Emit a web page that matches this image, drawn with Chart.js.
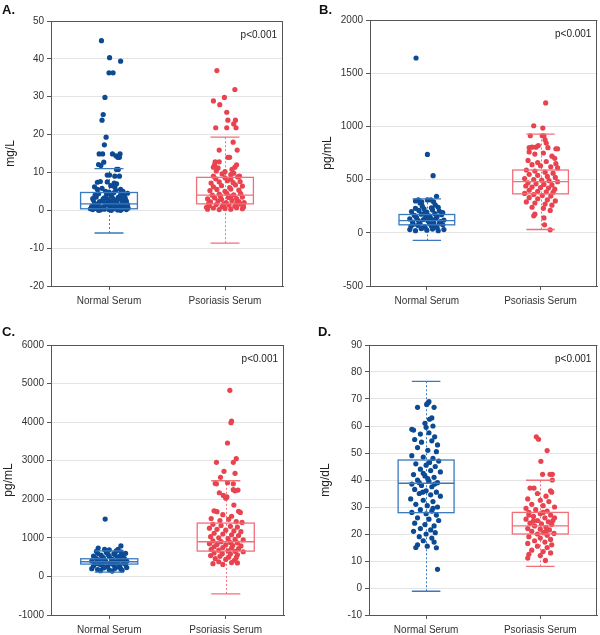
<!DOCTYPE html>
<html>
<head>
<meta charset="utf-8">
<script src="https://cdn.jsdelivr.net/npm/chart.js@4.4.0/dist/chart.umd.min.js"></script>
<style>
    body { margin: 0; background: #fff; }
    #wrap { position: relative; width: 600px; height: 635px; }
    .panel { position: absolute; width: 300px; height: 315px; }
    .letter { position: absolute; font: bold 13px "Liberation Sans", Arial, sans-serif; line-height: 13px; color: #111; }
</style>
</head>
<body>
<div id="wrap">
    <div class="panel" style="left:0;top:0"><canvas id="chartA"></canvas></div>
    <div class="panel" style="left:300px;top:0"><canvas id="chartB"></canvas></div>
    <div class="panel" style="left:0;top:320px"><canvas id="chartC"></canvas></div>
    <div class="panel" style="left:300px;top:320px"><canvas id="chartD"></canvas></div>
    <div class="letter" style="left:2px;top:3px">A.</div>
    <div class="letter" style="left:319px;top:3px">B.</div>
    <div class="letter" style="left:2px;top:325px">C.</div>
    <div class="letter" style="left:318px;top:325px">D.</div>
</div>
<script>
const categories = ['Normal Serum', 'Psoriasis Serum'];
const pValueText = 'p<0.001';

// each point: [horizontal jitter, value]

// A. mg/L
const aNormal = [
    [-0.13, 44.8], [0.01, 40.3], [0.2, 39.4], [0, 36.3], [0.07, 36.3], [-0.07, 29.8], [-0.1, 25.3], [-0.12, 23.8],
    [-0.05, 19.3], [-0.08, 17.3], [-0.17, 14.9], [-0.11, 14.9], [0.06, 14.9], [0.12, 14.4], [0.19, 14.9], [0.18, 14.0],
    [0.15, 14.0], [-0.09, 12.7], [-0.18, 12.1], [-0.14, 11.8], [0.16, 10.8], [0.13, 10.8], [-0.03, 9.3], [0.01, 9.3],
    [0.1, 9.0], [0.18, 9.0], [-0.2, 7.4], [-0.15, 7.6], [-0.03, 7.5], [0.09, 7.2], [0.13, 7.0], [0.03, 6.5],
    [0.2, 5.5], [-0.25, 6.2],
    [-0.28, 0.2], [-0.22, 0.5], [-0.15, 0.1], [-0.08, 0.3], [0.0, 0.2], [0.08, 0.4], [0.15, 0.1], [0.22, 0.3], [0.3, 0.2],
    [-0.3, 1.0], [-0.2, 1.2], [-0.1, 0.9], [0.02, 1.1], [0.12, 0.8], [0.2, 1.3], [0.28, 1.0],
    [-0.25, 1.8], [-0.17, 2.0], [-0.05, 1.6], [0.05, 2.2], [0.14, 1.9], [0.25, 2.1], [0.32, 1.5],
    [-0.27, 2.7], [-0.12, 2.5], [-0.02, 2.9], [0.1, 2.6], [0.18, 3.0], [0.3, 2.4],
    [-0.22, 3.5], [-0.08, 3.3], [0.04, 3.8], [0.16, 3.4], [0.26, 3.9],
    [-0.18, 4.4], [-0.04, 4.2], [0.08, 4.6], [0.2, 4.1], [0.32, 4.5],
    [-0.26, 0.6], [-0.13, 0.7], [0.06, 0.6], [0.17, 0.5], [0.26, 0.7],
    [-0.2, 1.5], [-0.03, 1.4], [0.1, 1.5], [0.23, 1.7],
    [-0.16, 2.3], [0.0, 2.4], [0.12, 2.3], [0.22, 2.8],
    [-0.28, 3.1], [-0.1, 3.0], [0.07, 3.1], [0.28, 3.2],
    [-0.06, 5.0], [0.12, 5.2], [-0.2, 5.5], [0.04, 0.0], [-0.18, 0.0], [0.2, 0.0],
    [-0.24, 4.0], [0.0, 4.8], [0.24, 5.0], [-0.12, 5.8], [0.1, 6.1], [-0.32, 0.4], [0.33, 0.6], [-0.06, 1.9]
];
const aPsoriasis = [
    [-0.14, 36.9], [0.17, 31.9], [-0.01, 29.8], [-0.2, 28.9], [-0.09, 27.9], [0.03, 25.9], [0.05, 23.8], [0.18, 23.8],
    [0.15, 22.8], [-0.16, 21.8], [0.03, 21.8], [0.19, 21.8], [0.14, 18.0], [-0.1, 15.9], [0.21, 15.9], [0.05, 14.0],
    [0.08, 14.0], [-0.17, 12.8], [-0.1, 12.8], [-0.18, 12.0], [0.2, 12.0], [0.17, 11.4], [-0.2, 11.4], [-0.12, 11.2],
    [0.12, 10.8], [-0.15, 10.4], [0.0, 10.2], [0.15, 9.8], [-0.05, 9.6], [0.1, 9.4], [-0.2, 9.0], [0.25, 9.0],
    [-0.3, 0.3], [-0.2, 0.6], [-0.1, 0.2], [0.0, 0.5], [0.1, 0.3], [0.2, 0.7], [0.3, 0.4],
    [-0.27, 1.2], [-0.15, 1.5], [-0.05, 1.0], [0.07, 1.4], [0.17, 1.1], [0.27, 1.6],
    [-0.25, 2.2], [-0.12, 2.5], [0.02, 2.0], [0.12, 2.6], [0.24, 2.3], [0.33, 2.0],
    [-0.3, 3.0], [-0.18, 3.3], [-0.06, 2.9], [0.06, 3.4], [0.2, 3.1], [0.3, 3.5],
    [-0.22, 4.0], [-0.1, 4.3], [0.03, 4.5], [0.15, 4.1], [0.27, 4.4],
    [-0.26, 5.2], [-0.14, 5.5], [0.0, 5.0], [0.1, 5.6], [0.24, 5.3],
    [-0.2, 6.2], [-0.06, 6.5], [0.08, 6.0], [0.18, 6.7], [0.3, 6.4],
    [-0.24, 7.2], [-0.1, 7.5], [0.04, 7.8], [0.14, 7.3], [0.26, 7.6],
    [-0.16, 8.3], [0.0, 8.6], [0.1, 8.2], [0.22, 8.8],
    [-0.28, 1.8], [-0.02, 1.7], [0.2, 1.8], [-0.08, 3.8], [0.1, 3.7], [0.32, 0.9], [-0.32, 0.8]
];
const aQ1 = [0.4, 1.7];
const aMedian = [1.7, 4.0];
const aQ3 = [4.7, 8.7];
const aLow = [-6, -8.7];
const aHigh = [11, 19.3];

// B. pg/mL
const bNormal = [
    [-0.19, 1643], [0.01, 737], [0.11, 537], [0.17, 343], [-0.15, 309], [-0.09, 290], [0.01, 309], [0.12, 290],
    [0.07, 309], [-0.2, 300], [-0.12, 280],
    [-0.3, 30], [-0.2, 20], [-0.1, 40], [0.0, 25], [0.1, 35], [0.2, 20], [0.3, 30],
    [-0.28, 60], [-0.16, 70], [-0.04, 55], [0.08, 65], [0.18, 50], [0.28, 75],
    [-0.25, 100], [-0.12, 90], [0.02, 110], [0.12, 95], [0.24, 105],
    [-0.3, 130], [-0.18, 140], [-0.06, 125], [0.06, 145], [0.16, 135], [0.3, 120],
    [-0.22, 165], [-0.1, 175], [0.04, 160], [0.14, 180], [0.26, 170],
    [-0.27, 200], [-0.14, 210], [0.0, 195], [0.1, 215], [0.22, 205],
    [-0.2, 230], [-0.05, 225], [0.08, 235], [0.2, 240], [-0.08, 250], [0.15, 260],
    [-0.24, 80], [0.05, 85], [0.22, 90], [-0.15, 115], [0.18, 150], [-0.02, 150],
    [-0.08, 45], [0.14, 60], [-0.2, 155], [0.28, 190], [-0.04, 185], [0.1, 120]
];
const bPsoriasis = [
    [0.09, 1221], [-0.12, 1006], [0.04, 984], [-0.18, 912], [0.03, 912], [0.06, 912], [0.08, 874], [0.1, 843],
    [-0.2, 800], [-0.15, 805], [-0.08, 805], [0.13, 800], [0.27, 790], [0.3, 790], [-0.04, 820],
    [-0.2, 760], [-0.1, 740], [0.05, 750], [0.2, 720], [0.25, 700],
    [-0.22, 680], [-0.05, 660], [0.1, 670], [0.27, 650],
    [-0.15, 640], [0.0, 630], [0.18, 620], [0.3, 610],
    [-0.25, 590], [-0.1, 580], [0.08, 570], [0.22, 560],
    [-0.2, 550], [-0.05, 540], [0.12, 530], [0.26, 520],
    [-0.28, 510], [-0.12, 500], [0.02, 495], [0.15, 490], [0.3, 480],
    [-0.22, 470], [-0.08, 460], [0.06, 455], [0.2, 450],
    [-0.26, 440], [-0.15, 430], [0.0, 425], [0.14, 420], [0.25, 410],
    [-0.2, 400], [-0.05, 390], [0.1, 385], [0.22, 380],
    [-0.28, 370], [-0.12, 360], [0.03, 350], [0.18, 345],
    [-0.2, 330], [-0.05, 320], [0.12, 310], [0.26, 300],
    [-0.25, 290], [-0.1, 280], [0.08, 270], [0.2, 260],
    [-0.15, 240], [0.05, 230], [0.17, 210], [-0.1, 175], [-0.12, 160], [0.06, 140], [0.07, 75], [0.17, 28]
];
const bQ1 = [75, 366];
const bMedian = [115, 481];
const bQ3 = [172, 590];
const bLow = [-72, 31];
const bHigh = [319, 928];

// C. pg/mL
const cNormal = [
    [-0.07, 1488], [-0.19, 737], [-0.08, 700], [0.0, 690], [0.2, 790], [0.15, 700],
    [-0.3, 200], [-0.2, 180], [-0.1, 220], [0.0, 170], [0.1, 210], [0.2, 190], [0.3, 230],
    [-0.27, 270], [-0.15, 300], [-0.03, 260], [0.08, 290], [0.18, 280], [0.28, 310],
    [-0.25, 340], [-0.12, 360], [0.02, 330], [0.12, 370], [0.24, 350],
    [-0.3, 400], [-0.18, 420], [-0.06, 390], [0.06, 430], [0.16, 410], [0.3, 400],
    [-0.22, 460], [-0.1, 480], [0.04, 450], [0.14, 490], [0.26, 470],
    [-0.27, 530], [-0.14, 550], [0.0, 520], [0.1, 560], [0.22, 540],
    [-0.2, 600], [-0.05, 620], [0.08, 590], [0.2, 640], [0.28, 600],
    [-0.15, 150], [0.05, 140], [0.22, 160], [-0.22, 650], [0.12, 660],
    [-0.08, 240], [0.16, 250], [-0.2, 330], [0.04, 380], [0.22, 430], [-0.12, 500], [0.18, 520], [-0.02, 570]
];
const cPsoriasis = [
    [0.07, 4824], [0.1, 4027], [0.09, 3985], [0.03, 3459], [-0.16, 2957], [0.18, 3052], [0.13, 2957], [-0.03, 2725],
    [0.16, 2673], [-0.09, 2569],
    [-0.18, 2410], [-0.16, 2400], [0.03, 2430], [0.13, 2400], [0.21, 2240], [0.16, 2220], [0.13, 2250], [-0.11, 2170],
    [-0.04, 2100], [0.0, 2030], [0.02, 2060], [0.14, 1851],
    [-0.2, 1700], [-0.15, 1680], [0.22, 1690], [0.25, 1660], [-0.05, 1600], [0.1, 1560],
    [-0.25, 1500], [-0.1, 1450], [0.05, 1480], [0.18, 1420], [0.28, 1400],
    [-0.22, 1350], [-0.08, 1320], [0.08, 1300], [0.2, 1280],
    [-0.28, 1250], [-0.15, 1220], [0.0, 1200], [0.14, 1180], [0.26, 1160],
    [-0.2, 1120], [-0.05, 1100], [0.1, 1080], [0.22, 1060],
    [-0.26, 1030], [-0.12, 1000], [0.04, 980], [0.16, 960], [0.3, 950],
    [-0.22, 920], [-0.08, 900], [0.08, 880], [0.2, 870],
    [-0.28, 850], [-0.15, 830], [0.0, 820], [0.12, 800], [0.26, 790],
    [-0.2, 770], [-0.05, 750], [0.1, 740], [0.22, 720],
    [-0.25, 700], [-0.12, 680], [0.04, 660], [0.16, 650], [0.3, 640],
    [-0.2, 610], [-0.06, 590], [0.08, 580], [0.2, 560],
    [-0.26, 540], [-0.1, 520], [0.05, 500], [0.18, 490],
    [-0.18, 460], [0.0, 440], [0.15, 420], [-0.12, 380], [0.1, 360], [-0.22, 330], [0.2, 350], [-0.05, 310]
];
const cQ1 = [320, 657];
const cMedian = [380, 899];
const cQ3 = [458, 1383];
const cLow = [112, -450];
const cHigh = [665, 2480];

// D. mg/dL
const dNormal = [
    [-0.15, 66.9], [0.01, 68], [0.05, 69], [0.03, 68.5], [0.14, 66.9],
    [0.1, 63], [0.06, 62.5], [-0.02, 61], [0.12, 60], [0.0, 59.5],
    [-0.25, 58.8], [-0.22, 58.5], [-0.1, 57], [0.05, 57.5], [0.15, 56],
    [-0.2, 55], [-0.08, 54], [0.1, 54.5], [0.2, 53], [-0.15, 52], [0.03, 51], [0.18, 50.5],
    [-0.25, 49], [-0.05, 48.5], [0.12, 48], [0.22, 47], [-0.18, 46], [0.0, 45.5], [0.16, 45],
    [-0.1, 44], [0.08, 43.5], [0.25, 43], [-0.22, 42], [-0.02, 41.5], [0.14, 41],
    [-0.15, 40], [0.05, 39.5], [0.2, 39], [-0.25, 38.5], [-0.08, 38], [0.1, 37.5],
    [-0.2, 36.5], [0.0, 36], [0.18, 35.5], [-0.12, 35], [0.08, 34.5], [0.25, 34],
    [-0.27, 33], [-0.05, 32.5], [0.12, 32], [-0.18, 31], [0.02, 30.5], [0.2, 30],
    [-0.1, 29], [0.1, 28.5], [-0.25, 28], [0.0, 27.5], [0.18, 27],
    [-0.15, 26], [0.05, 25.5], [0.22, 25], [-0.2, 24], [-0.02, 23.5], [0.14, 23],
    [-0.1, 22], [0.08, 21.5], [-0.22, 21], [0.16, 20.5], [0.0, 20], [-0.12, 19], [0.1, 18.5],
    [-0.05, 17.5], [0.14, 17], [-0.15, 16], [0.02, 15.5], [-0.18, 15], [0.18, 14.9], [0.2, 6.9],
    [-0.05, 42.5], [0.03, 40.5], [-0.12, 39], [0.15, 38.5], [0.06, 46.5], [-0.06, 35.5], [0.12, 29.5]
];
const dPsoriasis = [
    [-0.07, 56], [-0.03, 55.1], [0.12, 50.9], [0.01, 46.9], [0.04, 42.1], [0.17, 42.1], [0.21, 42.1], [0.21, 40],
    [-0.18, 37], [-0.11, 37], [0.18, 36], [0.2, 35.5], [-0.05, 35], [0.1, 34], [-0.22, 33], [0.0, 32.5], [0.15, 32],
    [-0.15, 31], [0.05, 30.5], [0.25, 30], [-0.25, 29.5], [-0.08, 29], [0.12, 28.5],
    [-0.2, 28], [0.0, 27.5], [0.18, 27], [-0.12, 26.5], [0.08, 26], [0.25, 26],
    [-0.25, 25.5], [-0.05, 25], [0.14, 24.5], [-0.18, 24], [0.02, 23.8], [0.2, 23.5],
    [-0.1, 23], [0.1, 22.5], [-0.22, 22], [0.0, 21.8], [0.16, 21.5],
    [-0.15, 21], [0.06, 20.5], [0.24, 20.2], [-0.05, 20], [0.12, 19.5], [-0.2, 19],
    [0.0, 18.5], [0.18, 18], [-0.1, 17.5], [0.08, 17], [-0.22, 16.5], [0.2, 16],
    [-0.05, 15.5], [0.12, 15], [-0.15, 14], [0.05, 13.5], [0.18, 13], [-0.2, 12.5], [0.0, 12],
    [-0.22, 11.1], [0.09, 10.2], [-0.2, 27], [0.05, 28], [0.22, 25], [-0.12, 24.8], [0.1, 21]
];
const dQ1 = [27.9, 20];
const dMedian = [38.8, 23];
const dQ3 = [47.4, 28];
const dLow = [-1.2, 8];
const dHigh = [76.5, 39.9];

const pointColors = ['#0c4a93', '#e8434f'];
const boxColors = ['#3a79be', '#f0707a'];
const axisColor = '#555';

Chart.defaults.font.family = '"Liberation Sans", Arial, sans-serif';
Chart.defaults.font.size = 10;
Chart.defaults.color = '#333';

// category i sits at x = 2*i + 1 on a 0..4 linear axis
function catX(i) {
    return 2 * i + 1;
}

const boxPlugin = {
    id: 'boxes',
    beforeDatasetsDraw(chart, args, opts) {
        const ctx = chart.ctx;
        const xs = chart.scales.x, ys = chart.scales.y;
        ctx.save();
        ctx.lineWidth = 1;
        ctx.setLineDash([2, 2]);
        for (let i = 0; i < 2; i++) {
            const x = Math.round(xs.getPixelForValue(catX(i))) + 0.5;
            ctx.strokeStyle = boxColors[i];
            ctx.beginPath();
            ctx.moveTo(x, ys.getPixelForValue(opts.low[i]));
            ctx.lineTo(x, ys.getPixelForValue(opts.high[i]));
            ctx.stroke();
        }
        ctx.restore();
    },
    afterDatasetsDraw(chart, args, opts) {
        const ctx = chart.ctx;
        const xs = chart.scales.x, ys = chart.scales.y;
        const area = chart.chartArea;
        ctx.save();
        ctx.lineWidth = 1.3;
        for (let i = 0; i < 2; i++) {
            const c = catX(i);
            const x0 = xs.getPixelForValue(c - 0.49), x1 = xs.getPixelForValue(c + 0.49);
            const w0 = xs.getPixelForValue(c - 0.25), w1 = xs.getPixelForValue(c + 0.25);
            const yq1 = ys.getPixelForValue(opts.q1[i]);
            const yq3 = ys.getPixelForValue(opts.q3[i]);
            const ym = ys.getPixelForValue(opts.median[i]);
            ctx.strokeStyle = boxColors[i];
            ctx.strokeRect(x0, yq3, x1 - x0, yq1 - yq3);
            ctx.beginPath();
            ctx.moveTo(x0, ym); ctx.lineTo(x1, ym);
            const yl = ys.getPixelForValue(opts.low[i]), yh = ys.getPixelForValue(opts.high[i]);
            ctx.moveTo(w0, yl); ctx.lineTo(w1, yl);
            ctx.moveTo(w0, yh); ctx.lineTo(w1, yh);
            ctx.stroke();
        }
        // frame top and right
        ctx.strokeStyle = axisColor;
        ctx.lineWidth = 1;
        ctx.beginPath();
        ctx.moveTo(area.left, Math.round(area.top) + 0.5);
        ctx.lineTo(area.right, Math.round(area.top) + 0.5);
        ctx.moveTo(Math.round(area.right) - 0.5, area.top);
        ctx.lineTo(Math.round(area.right) - 0.5, area.bottom);
        ctx.stroke();
        ctx.fillStyle = '#222';
        ctx.font = '10px "Liberation Sans", Arial, sans-serif';
        ctx.textAlign = 'right';
        ctx.textBaseline = 'middle';
        ctx.fillText(pValueText, area.right - 6, area.top + 14);
        ctx.restore();
    }
};

function makePoints(list, i) {
    return list.map(p => ({ x: catX(i) + p[0], y: p[1] }));
}

function makeChart(id, normal, psoriasis, stats, yCfg, lay) {
    return new Chart(document.getElementById(id), {
        type: 'scatter',
        data: {
            datasets: [normal, psoriasis].map((list, i) => ({
                label: categories[i],
                data: makePoints(list, i),
                backgroundColor: pointColors[i],
                borderWidth: 0,
                pointRadius: 2.6,
                pointHoverRadius: 2.6
            }))
        },
        options: {
            animation: false,
            responsive: true,
            maintainAspectRatio: false,
            layout: { padding: { left: 0, right: lay.right, top: lay.top, bottom: 0 } },
            plugins: {
                legend: { display: false },
                tooltip: { enabled: false },
                boxes: stats
            },
            scales: {
                x: {
                    type: 'linear',
                    min: 0,
                    max: 4,
                    afterBuildTicks: (scale) => { scale.ticks = [{ value: catX(0) }, { value: catX(1) }]; },
                    afterFit: (scale) => { scale.height = lay.xHeight; },
                    ticks: {
                        padding: 5,
                        color: '#333',
                        callback: (v) => categories[(v - 1) / 2]
                    },
                    grid: { drawOnChartArea: false, drawTicks: true, tickLength: 4, tickColor: axisColor },
                    border: { color: axisColor, width: 1 }
                },
                y: {
                    min: yCfg.min,
                    max: yCfg.max,
                    afterFit: (scale) => { scale.width = lay.yWidth; },
                    ticks: { stepSize: yCfg.step, padding: 3, color: '#333', callback: (v) => String(v) },
                    grid: { color: '#e4e4e4', tickColor: axisColor, tickLength: 4 },
                    border: { color: axisColor, width: 1 },
                    title: {
                        display: true,
                        text: yCfg.title,
                        color: '#222',
                        font: { size: 12 },
                        padding: { top: lay.titlePad, bottom: 0 }
                    }
                }
            }
        },
        plugins: [boxPlugin]
    });
}

makeChart('chartA', aNormal, aPsoriasis,
    { q1: aQ1, median: aMedian, q3: aQ3, low: aLow, high: aHigh },
    { min: -20, max: 50, step: 10, title: 'mg/L' },
    { right: 17, top: 21, yWidth: 51, xHeight: 29, titlePad: 3 });

makeChart('chartB', bNormal, bPsoriasis,
    { q1: bQ1, median: bMedian, q3: bQ3, low: bLow, high: bHigh },
    { min: -500, max: 2000, step: 500, title: 'pg/mL' },
    { right: 2, top: 20, yWidth: 70, xHeight: 29, titlePad: 20 });

makeChart('chartC', cNormal, cPsoriasis,
    { q1: cQ1, median: cMedian, q3: cQ3, low: cLow, high: cHigh },
    { min: -1000, max: 6000, step: 1000, title: 'pg/mL' },
    { right: 16, top: 25, yWidth: 51, xHeight: 20, titlePad: 1 });

makeChart('chartD', dNormal, dPsoriasis,
    { q1: dQ1, median: dMedian, q3: dQ3, low: dLow, high: dHigh },
    { min: -10, max: 90, step: 10, title: 'mg/dL' },
    { right: 2, top: 25, yWidth: 69, xHeight: 20, titlePad: 18 });
</script>
</body>
</html>
